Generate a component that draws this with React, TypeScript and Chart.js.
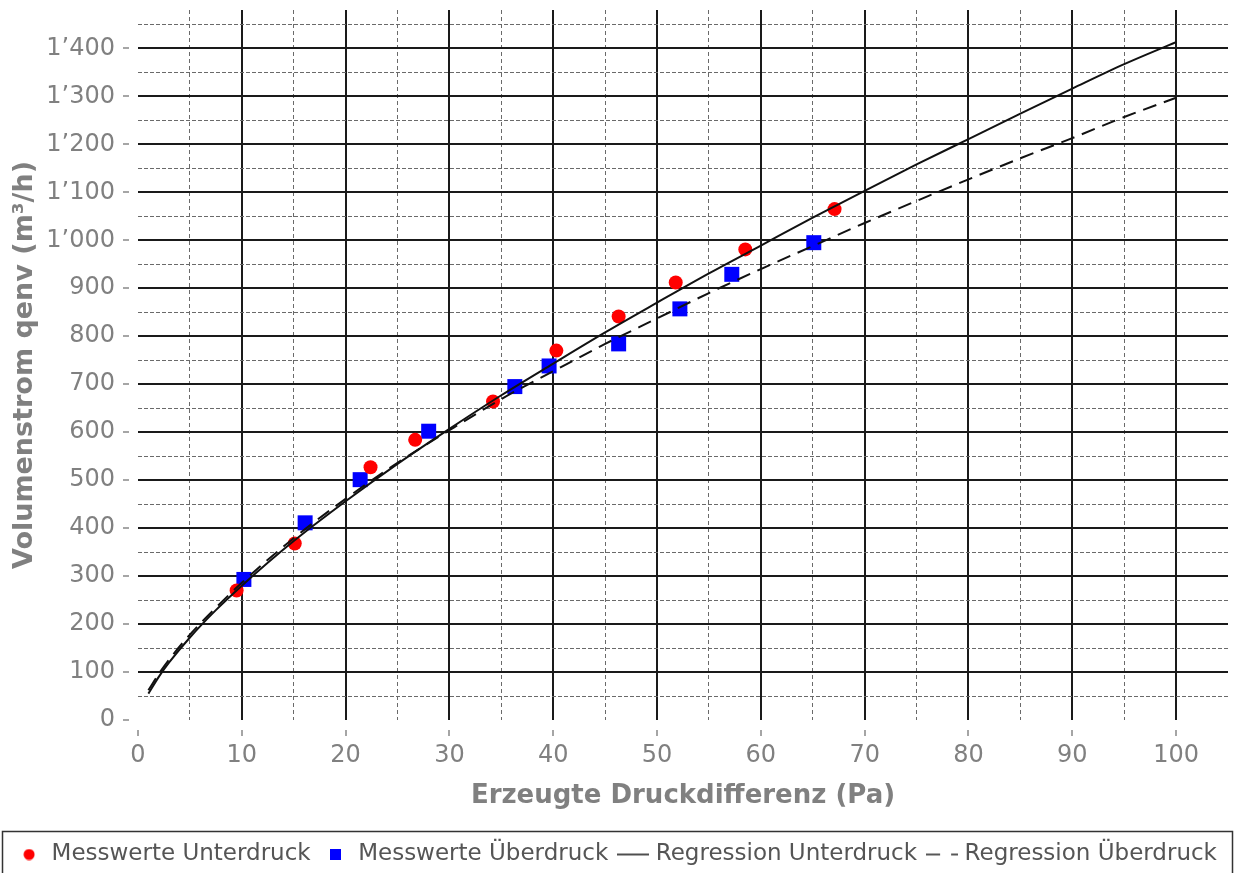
import React, { useEffect, useRef } from 'react';
import { Chart, registerables } from 'chart.js';

Chart.register(...registerables);

// ---------------- data ----------------
const UNTER_X = [9.5, 15.1, 22.4, 26.7, 34.2, 40.3, 46.3, 51.8, 58.5, 67.1];
const UNTER_Y = [270, 368, 527, 584, 664, 770, 841, 912, 981, 1065];

const UEBER_X = [10.2, 16.1, 21.4, 28.0, 36.3, 39.6, 46.3, 52.2, 57.2, 65.1];
const UEBER_Y = [293, 411, 501, 602, 695, 738, 784, 857, 929, 995];

const REG_X = [1, 2, 3, 5, 7.5, 10, 15, 20, 25, 30, 35, 40, 45, 50, 55, 60, 65, 70, 75, 80, 85, 90, 95, 100];
const REG_UNTER_Y = [55, 90, 120, 172, 229, 280, 373, 456, 534, 607, 677, 743, 808, 870, 931, 989, 1047, 1103, 1158, 1211, 1264, 1316, 1367, 1413];
const REG_UEBER_Y = [62, 96, 126, 178, 234, 286, 379, 461, 536, 604, 669, 727, 784, 837, 890, 940, 988, 1036, 1082, 1127, 1171, 1213, 1257, 1297];

const X_GRID = [0, 5, 10, 15, 20, 25, 30, 35, 40, 45, 50, 55, 60, 65, 70, 75, 80, 85, 90, 95, 100, 105];
const Y_GRID = [0, 50, 100, 150, 200, 250, 300, 350, 400, 450, 500, 550, 600, 650, 700, 750, 800, 850, 900, 950, 1000, 1050, 1100, 1150, 1200, 1250, 1300, 1350, 1400, 1450];
const X_LABELS = ['0', '10', '20', '30', '40', '50', '60', '70', '80', '90', '100'];
const Y_LABELS = ['0', '100', '200', '300', '400', '500', '600', '700', '800', '900', '1’000', '1’100', '1’200', '1’300', '1’400'];

const SERIES_NAMES = ['Messwerte Unterdruck', 'Messwerte Überdruck', 'Regression Unterdruck', 'Regression Überdruck'];
const X_TITLE = 'Erzeugte Druckdifferenz (Pa)';
const Y_TITLE = 'Volumenstrom qenv (m³/h)';

const FONT = 'DejaVu Sans';
const TRANSPARENT = 'rgba(0,0,0,0)';
const MAJOR_GRID = '#1a1a1a';
const MINOR_GRID = '#6a6a6a';

function makeMarker(kind: string): HTMLCanvasElement {
  const c = document.createElement('canvas');
  const ctx = c.getContext('2d')!;
  if (kind === 'circle') {
    c.width = 12; c.height = 12;
    ctx.fillStyle = '#ff0000';
    ctx.beginPath(); ctx.arc(6, 6, 5.5, 0, Math.PI * 2); ctx.fill();
  } else if (kind === 'square') {
    c.width = 11; c.height = 11;
    ctx.fillStyle = '#0000ff';
    ctx.fillRect(0, 0, 11, 11);
  } else {
    c.width = 32; c.height = 4;
    ctx.strokeStyle = '#222';
    ctx.lineWidth = 1.6;
    if (kind === 'dash') ctx.setLineDash([14, 11]);
    ctx.beginPath(); ctx.moveTo(0, 2); ctx.lineTo(32, 2); ctx.stroke();
  }
  return c;
}

const legendBoxPlugin = {
  id: 'legendBox',
  afterDraw(chart: any) {
    const lg = chart.legend;
    if (!lg) return;
    const ctx = chart.ctx;
    ctx.save();
    ctx.strokeStyle = '#333';
    ctx.lineWidth = 1.5;
    ctx.strokeRect(2.5, lg.top + 2.5, chart.width - 5, lg.height + 20);
    ctx.restore();
  },
};

export default function App() {
  const ref = useRef<HTMLCanvasElement | null>(null);

  useEffect(() => {
    document.body.style.margin = '0';
    document.body.style.overflow = 'hidden';
    Chart.defaults.font.family = FONT;
    const canvas = ref.current!;
    const markers = [makeMarker('circle'), makeMarker('square'), makeMarker('line'), makeMarker('dash')];

    const chart = new Chart(canvas, {
      type: 'scatter',
      data: {
        datasets: [
          {
            label: SERIES_NAMES[0],
            data: UNTER_X.map((x, i) => ({ x, y: UNTER_Y[i] })),
            pointStyle: 'circle',
            pointRadius: 7,
            backgroundColor: '#ff0000',
            borderColor: '#ff0000',
            borderWidth: 0,
            order: 2,
          },
          {
            label: SERIES_NAMES[1],
            data: UEBER_X.map((x, i) => ({ x, y: UEBER_Y[i] })),
            pointStyle: 'rect',
            pointRadius: 10.6,
            backgroundColor: '#0000ff',
            borderColor: '#0000ff',
            borderWidth: 0,
            order: 2,
          },
          {
            label: SERIES_NAMES[2],
            data: REG_X.map((x, i) => ({ x, y: REG_UNTER_Y[i] })),
            showLine: true,
            pointRadius: 0,
            borderColor: '#111',
            borderWidth: 2,
            cubicInterpolationMode: 'monotone',
            fill: false,
            order: 1,
          },
          {
            label: SERIES_NAMES[3],
            data: REG_X.map((x, i) => ({ x, y: REG_UEBER_Y[i] })),
            showLine: true,
            pointRadius: 0,
            borderColor: '#111',
            borderWidth: 2,
            borderDash: [14, 8],
            cubicInterpolationMode: 'monotone',
            fill: false,
            order: 1,
          },
        ] as any,
      },
      options: {
        animation: false,
        responsive: false,
        layout: { autoPadding: false, padding: { top: 10, right: 0, left: 0, bottom: 0 } },
        scales: {
          x: {
            type: 'linear',
            min: 0,
            max: 105,
            afterBuildTicks: (s: any) => { s.ticks = X_GRID.map((v) => ({ value: v })); },
            afterFit: (s: any) => { s.height = 109; s.paddingLeft = 0; s.paddingRight = 0; },
            ticks: {
              autoSkip: false,
              maxRotation: 0,
              padding: 5,
              color: '#808080',
              font: { size: 24 },
              callback: (v: any) => (v % 10 === 0 && v <= 100 ? X_LABELS[v / 10] : ''),
            },
            grid: {
              color: (c: any) => {
                const v = c.tick ? c.tick.value : -1;
                if (v <= 0 || v >= 105) return TRANSPARENT;
                return v % 10 === 0 ? MAJOR_GRID : MINOR_GRID;
              },
              lineWidth: (c: any) => (c.tick && c.tick.value % 10 === 0 ? 2 : 1),
              tickLength: 16,
              tickColor: (c: any) => (c.tick && c.tick.value % 10 === 0 && c.tick.value <= 100 ? '#888' : TRANSPARENT),
              tickWidth: 1.5,
              tickBorderDash: [0, 10, 6, 100],
            },
            border: {
              display: false,
              dash: (c: any) => (c.tick && c.tick.value % 10 !== 0 ? [4, 3] : []),
            },
            title: {
              display: true,
              text: X_TITLE,
              color: '#808080',
              font: { size: 26, weight: 'bold' },
              padding: { top: 0, bottom: 17 },
            },
          },
          y: {
            type: 'linear',
            min: 0,
            max: 1480,
            afterBuildTicks: (s: any) => { s.ticks = Y_GRID.map((v) => ({ value: v })); },
            afterFit: (s: any) => { s.width = 138; s.paddingTop = 0; s.paddingBottom = 0; },
            ticks: {
              autoSkip: false,
              padding: 8,
              color: '#808080',
              font: { size: 24 },
              callback: (v: any) => (v % 100 === 0 ? Y_LABELS[v / 100] : ''),
            },
            grid: {
              color: (c: any) => {
                const v = c.tick ? c.tick.value : -1;
                if (v <= 0) return TRANSPARENT;
                return v % 100 === 0 ? MAJOR_GRID : MINOR_GRID;
              },
              lineWidth: (c: any) => (c.tick && c.tick.value % 100 === 0 ? 2 : 1),
              tickLength: 15,
              tickColor: (c: any) => (c.tick && c.tick.value % 100 === 0 ? '#888' : TRANSPARENT),
              tickWidth: 1.5,
              tickBorderDash: [6, 100],
            },
            border: {
              display: false,
              dash: (c: any) => (c.tick && c.tick.value % 100 !== 0 ? [4, 2] : []),
            },
            title: {
              display: true,
              text: Y_TITLE,
              color: '#808080',
              font: { size: 27, weight: 'bold', lineHeight: 1 },
              padding: { top: 11.5, bottom: 0 },
            },
          },
          yRightSpacer: {
            type: 'linear',
            position: 'right',
            display: true,
            min: 0,
            max: 1,
            afterFit: (s: any) => { s.width = 7; s.paddingTop = 0; s.paddingBottom = 0; },
            grid: { display: false, drawTicks: false },
            ticks: { display: false },
            border: { display: false },
          },
        },
        plugins: {
          tooltip: { enabled: false },
          legend: {
            position: 'bottom',
            labels: {
              usePointStyle: true,
              pointStyleWidth: 22,
              padding: 14,
              color: '#555',
              font: { size: 23 },
              generateLabels: () =>
                SERIES_NAMES.map((name, i) => ({
                  text: name,
                  pointStyle: markers[i],
                  fillStyle: TRANSPARENT,
                  strokeStyle: TRANSPARENT,
                  lineWidth: 0,
                  hidden: false,
                  datasetIndex: i,
                  fontColor: '#555',
                })),
            },
          },
        },
      } as any,
      plugins: [legendBoxPlugin],
    });

    return () => chart.destroy();
  }, []);

  return (
    <div style={{ width: 1235, height: 876 }}>
      <canvas ref={ref} width={1235} height={876} />
    </div>
  );
}
